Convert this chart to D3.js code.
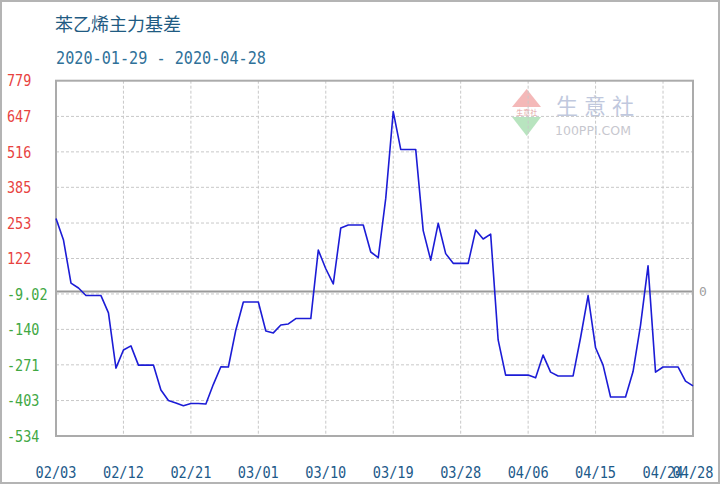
<!DOCTYPE html>
<html>
<head>
<meta charset="utf-8">
<script src="https://cdn.jsdelivr.net/npm/d3@7"></script>
<style>
html,body{margin:0;padding:0;background:#fff;}
svg{display:block;}
</style>
</head>
<body>
<svg id="chart" width="720" height="484"></svg>
<script>
// ---- data ----
const title = "苯乙烯主力基差";
const subtitle = "2020-01-29 - 2020-04-28";
const startDate = "2020-02-03";
const endDate = "2020-04-28";
const basisValues = [
  270, 190, 31, 13, -15, -15, -15, -79, -283, -216,
  -201, -272, -272, -272, -364, -403, -412, -422, -414, -414,
  -416, -343, -278, -279, -142, -39, -39, -39, -146, -153,
  -124, -120, -100, -100, -100, 153, 84, 28, 235, 246,
  246, 246, 146, 125, 344, 665, 525, 525, 525, 225,
  116, 252, 140, 104, 104, 104, 227, 194, 212, -179,
  -309, -309, -309, -309, -319, -235, -298, -312, -312, -312,
  -170, -15, -208, -272, -390, -390, -390, -296, -124, 95,
  -298, -279, -279, -279, -331, -349
];
const yTickValues = [779, 647, 516, 385, 253, 122, -9.02, -140, -271, -403, -534];
const yTickLabels = ["779", "647", "516", "385", "253", "122", "-9.02", "-140", "-271", "-403", "-534"];
const xTickDates = ["2020-02-03", "2020-02-12", "2020-02-21", "2020-03-01", "2020-03-10", "2020-03-19", "2020-03-28", "2020-04-06", "2020-04-15", "2020-04-24", "2020-04-28"];
const xTickLabels = ["02/03", "02/12", "02/21", "03/01", "03/10", "03/19", "03/28", "04/06", "04/15", "04/24", "04/28"];

// ---- setup ----
const parse = d3.timeParse("%Y-%m-%d");
const t0 = parse(startDate);
const dates = d3.timeDay.range(t0, d3.timeDay.offset(parse(endDate), 1));
const series = basisValues.map((v, i) => ({ date: dates[i], value: v }));

const svg = d3.select("#chart");
const L = 56, R = 693, T = 80.7, B = 436;
const x = d3.scaleTime().domain([t0, parse(endDate)]).range([L, R]);
const y = d3.scaleLinear().domain([-534, 779]).range([B, T]);
const mono = "'DejaVu Sans Mono', 'Liberation Mono', monospace";

svg.append("rect").attr("x", 0).attr("y", 0).attr("width", 720).attr("height", 484).attr("fill", "#fff");
svg.append("rect").attr("x", 1).attr("y", 1).attr("width", 718).attr("height", 482)
  .attr("fill", "none").attr("stroke", "#b4b4b4").attr("stroke-width", 2);

// title
svg.append("text").attr("x", 55).attr("y", 31).text(title)
  .attr("font-family", "'Noto Sans CJK SC', sans-serif").attr("font-size", 18)
  .attr("fill", "#1f5b82");
svg.append("text").attr("x", 56).attr("y", 64).text(subtitle)
  .attr("font-family", mono).attr("font-size", 18)
  .attr("textLength", 210).attr("lengthAdjust", "spacingAndGlyphs")
  .attr("fill", "#2f7199");

// watermark
const wm = svg.append("g").attr("opacity", 0.55);
wm.append("path").attr("d", `M526.7,89 L512,107 L541,107 Z`).attr("fill", "#ec7f7f");
wm.append("path").attr("d", `M512,117 L541,117 L526.7,136 Z`).attr("fill", "#7fcf8c");
wm.append("text").attr("x", 526.7).attr("y", 115).attr("text-anchor", "middle")
  .attr("font-family", "'Noto Sans CJK SC', sans-serif").attr("font-size", 7).attr("fill", "#c55").text("生意社");
wm.append("text").attr("x", 556).attr("y", 114).text("生意社")
  .attr("font-family", "'Noto Sans CJK SC', sans-serif").attr("font-size", 22)
  .attr("letter-spacing", 6).attr("fill", "#8d9cc4");
wm.append("text").attr("x", 555).attr("y", 135).text("100PPI.COM")
  .attr("font-family", "'DejaVu Sans', sans-serif").attr("font-size", 12.5)
  .attr("fill", "#9a9aa8");

// grid
const grid = svg.append("g").attr("stroke", "#c8c8c8").attr("stroke-width", 1).attr("stroke-dasharray", "3,2");
yTickValues.slice(1, -1).forEach(v => {
  grid.append("line").attr("x1", L).attr("x2", R).attr("y1", y(v)).attr("y2", y(v));
});
xTickDates.slice(1, -1).forEach(d => {
  const xx = x(parse(d));
  grid.append("line").attr("x1", xx).attr("x2", xx).attr("y1", T).attr("y2", B);
});

// zero line
svg.append("line").attr("x1", L).attr("x2", R).attr("y1", y(0)).attr("y2", y(0))
  .attr("stroke", "#9a9a9a").attr("stroke-width", 2);
svg.append("text").attr("x", 699).attr("y", y(0)).attr("dy", "0.35em").text("0")
  .attr("font-family", mono).attr("font-size", 13).attr("fill", "#a0a0a0");

// frame
svg.append("rect").attr("x", L).attr("y", T).attr("width", R - L).attr("height", B - T)
  .attr("fill", "none").attr("stroke", "#ababab").attr("stroke-width", 2);

// line
svg.append("path").datum(series)
  .attr("d", d3.line().x(d => x(d.date)).y(d => y(d.value)))
  .attr("fill", "none").attr("stroke", "#1c1cd6").attr("stroke-width", 1.6)
  .attr("stroke-linejoin", "round");

// y labels
yTickValues.forEach((v, i) => {
  const lab = yTickLabels[i];
  svg.append("text").attr("x", 7).attr("y", y(v)).attr("dy", "0.36em").text(lab)
    .attr("font-family", mono).attr("font-size", 16)
    .attr("textLength", lab.length * 8.1).attr("lengthAdjust", "spacingAndGlyphs")
    .attr("fill", v >= 0 ? "#e8433f" : "#41a843");
});

// x labels
xTickDates.forEach((d, i) => {
  const lab = xTickLabels[i];
  svg.append("text").attr("x", x(parse(d))).attr("y", 472).attr("dy", "0.36em")
    .attr("text-anchor", "middle").text(lab)
    .attr("font-family", mono).attr("font-size", 16)
    .attr("textLength", 41).attr("lengthAdjust", "spacingAndGlyphs")
    .attr("fill", "#1d5a8a");
});
</script>
</body>
</html>
